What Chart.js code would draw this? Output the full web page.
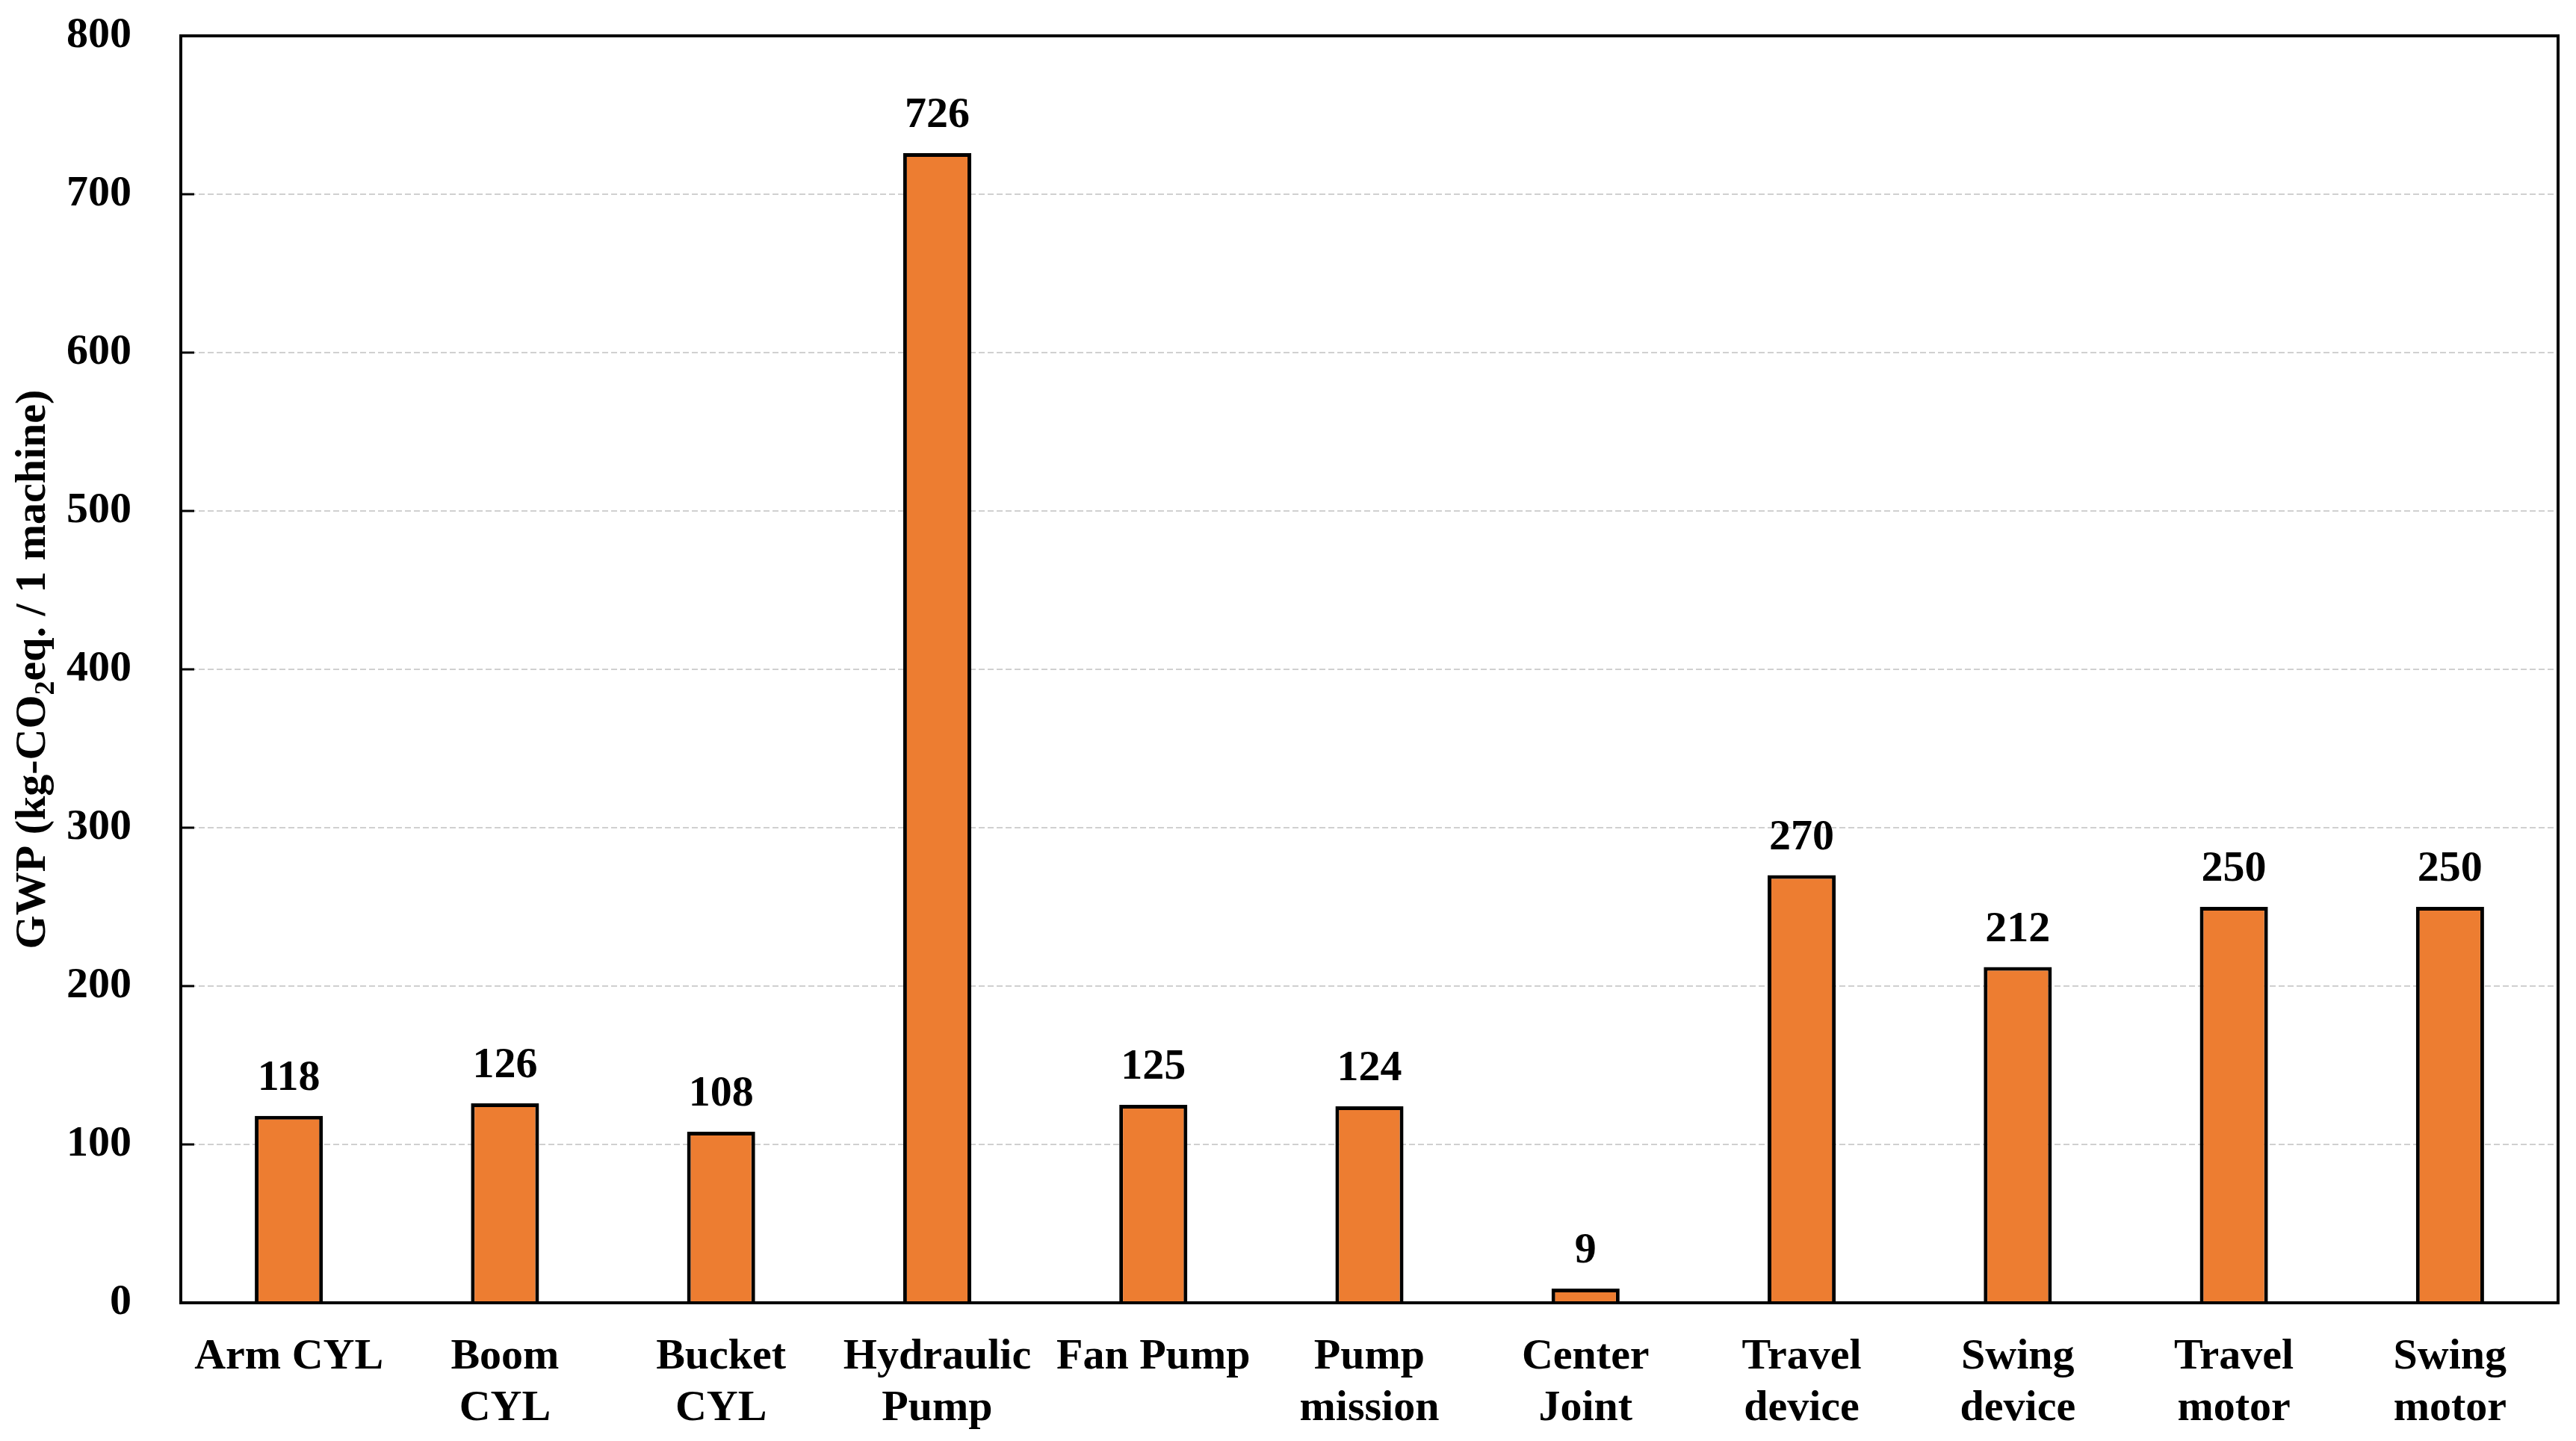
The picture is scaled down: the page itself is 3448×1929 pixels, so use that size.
<!DOCTYPE html>
<html>
<head>
<meta charset="utf-8">
<script src="https://cdn.jsdelivr.net/npm/chart.js@4/dist/chart.umd.min.js"></script>
<style>
  body { margin: 0; background: #fff; }
</style>
</head>
<body>
<canvas id="gwp" width="3448" height="1929"></canvas>
<script>
// component names (multi-line as in the figure)
const components = [
  ['Arm CYL'], ['Boom', 'CYL'], ['Bucket', 'CYL'], ['Hydraulic', 'Pump'],
  ['Fan Pump'], ['Pump', 'mission'], ['Center', 'Joint'], ['Travel', 'device'],
  ['Swing', 'device'], ['Travel', 'motor'], ['Swing', 'motor']
];
// GWP per machine, kg-CO2eq.
const gwpValues = [118, 126, 108, 726, 125, 124, 9, 270, 212, 250, 250];
const yTicks = [0, 100, 200, 300, 400, 500, 600, 700, 800];

const FONT = 'bold 58px "Liberation Serif", "Times New Roman", serif';
const SUB_FONT = 'bold 38px "Liberation Serif", "Times New Roman", serif';

// frame, inner tick marks, value labels, y title with subscript
const decor = {
  id: 'decor',
  afterDraw(chart) {
    const ctx = chart.ctx;
    const a = chart.chartArea;
    const y = chart.scales.y;

    ctx.save();
    ctx.strokeStyle = '#000';
    ctx.lineWidth = 3;
    yTicks.forEach(v => {
      const py = y.getPixelForValue(v);
      ctx.beginPath();
      ctx.moveTo(a.left, py);
      ctx.lineTo(a.left + 18, py);
      ctx.stroke();
    });
    ctx.lineWidth = 4;
    ctx.strokeRect(a.left, a.top, a.right - a.left, a.bottom - a.top);

    // value labels
    ctx.fillStyle = '#000';
    ctx.font = FONT;
    ctx.textAlign = 'center';
    ctx.textBaseline = 'alphabetic';
    const meta = chart.getDatasetMeta(0);
    meta.data.forEach((bar, i) => {
      ctx.fillText(String(gwpValues[i]), bar.x, bar.y - 35);
    });

    // y axis title: GWP (kg-CO2eq. / 1 machine)
    const p1 = 'GWP (kg-CO', sub = '2', p2 = 'eq. / 1 machine)';
    ctx.font = FONT;
    const w1 = ctx.measureText(p1).width;
    const w3 = ctx.measureText(p2).width;
    ctx.font = SUB_FONT;
    const w2 = ctx.measureText(sub).width;
    const total = w1 + w2 + w3;
    ctx.translate(60, (a.top + a.bottom) / 2);
    ctx.rotate(-Math.PI / 2);
    ctx.textAlign = 'left';
    let x = -total / 2;
    ctx.font = FONT;
    ctx.fillText(p1, x, 0);
    x += w1;
    ctx.font = SUB_FONT;
    ctx.fillText(sub, x, 12);
    x += w2;
    ctx.font = FONT;
    ctx.fillText(p2, x, 0);
    ctx.restore();
  }
};

new Chart(document.getElementById('gwp'), {
  type: 'bar',
  data: {
    labels: components,
    datasets: [{
      data: gwpValues,
      backgroundColor: '#ED7D31',
      borderColor: '#000',
      borderWidth: 5,
      barPercentage: 0.315,
      categoryPercentage: 1
    }]
  },
  options: {
    responsive: false,
    animation: false,
    devicePixelRatio: 1,
    layout: { padding: { top: 0, right: 24, left: 0, bottom: 0 } },
    plugins: { legend: { display: false }, tooltip: { enabled: false } },
    scales: {
      x: {
        grid: { display: false, drawTicks: false },
        border: { display: false },
        ticks: {
          color: '#000',
          font: { family: '"Liberation Serif", "Times New Roman", serif', size: 58, weight: 'bold', lineHeight: 1.2 },
          padding: 38,
          maxRotation: 0,
          autoSkip: false
        },
        afterFit(scale) { scale.height = 185; }
      },
      y: {
        min: 0,
        max: 800,
        ticks: {
          stepSize: 100,
          color: '#000',
          font: { family: '"Liberation Serif", "Times New Roman", serif', size: 58, weight: 'bold' },
          padding: 66
        },
        grid: {
          color: '#d0d0d0',
          lineWidth: 2,
          drawTicks: false
        },
        border: { display: false, dash: [8, 4] },
        afterFit(scale) {
          scale.width = 242;
          scale.paddingTop = 48;
          scale.paddingBottom = 0;
        }
      }
    }
  },
  plugins: [decor]
});
</script>
</body>
</html>
